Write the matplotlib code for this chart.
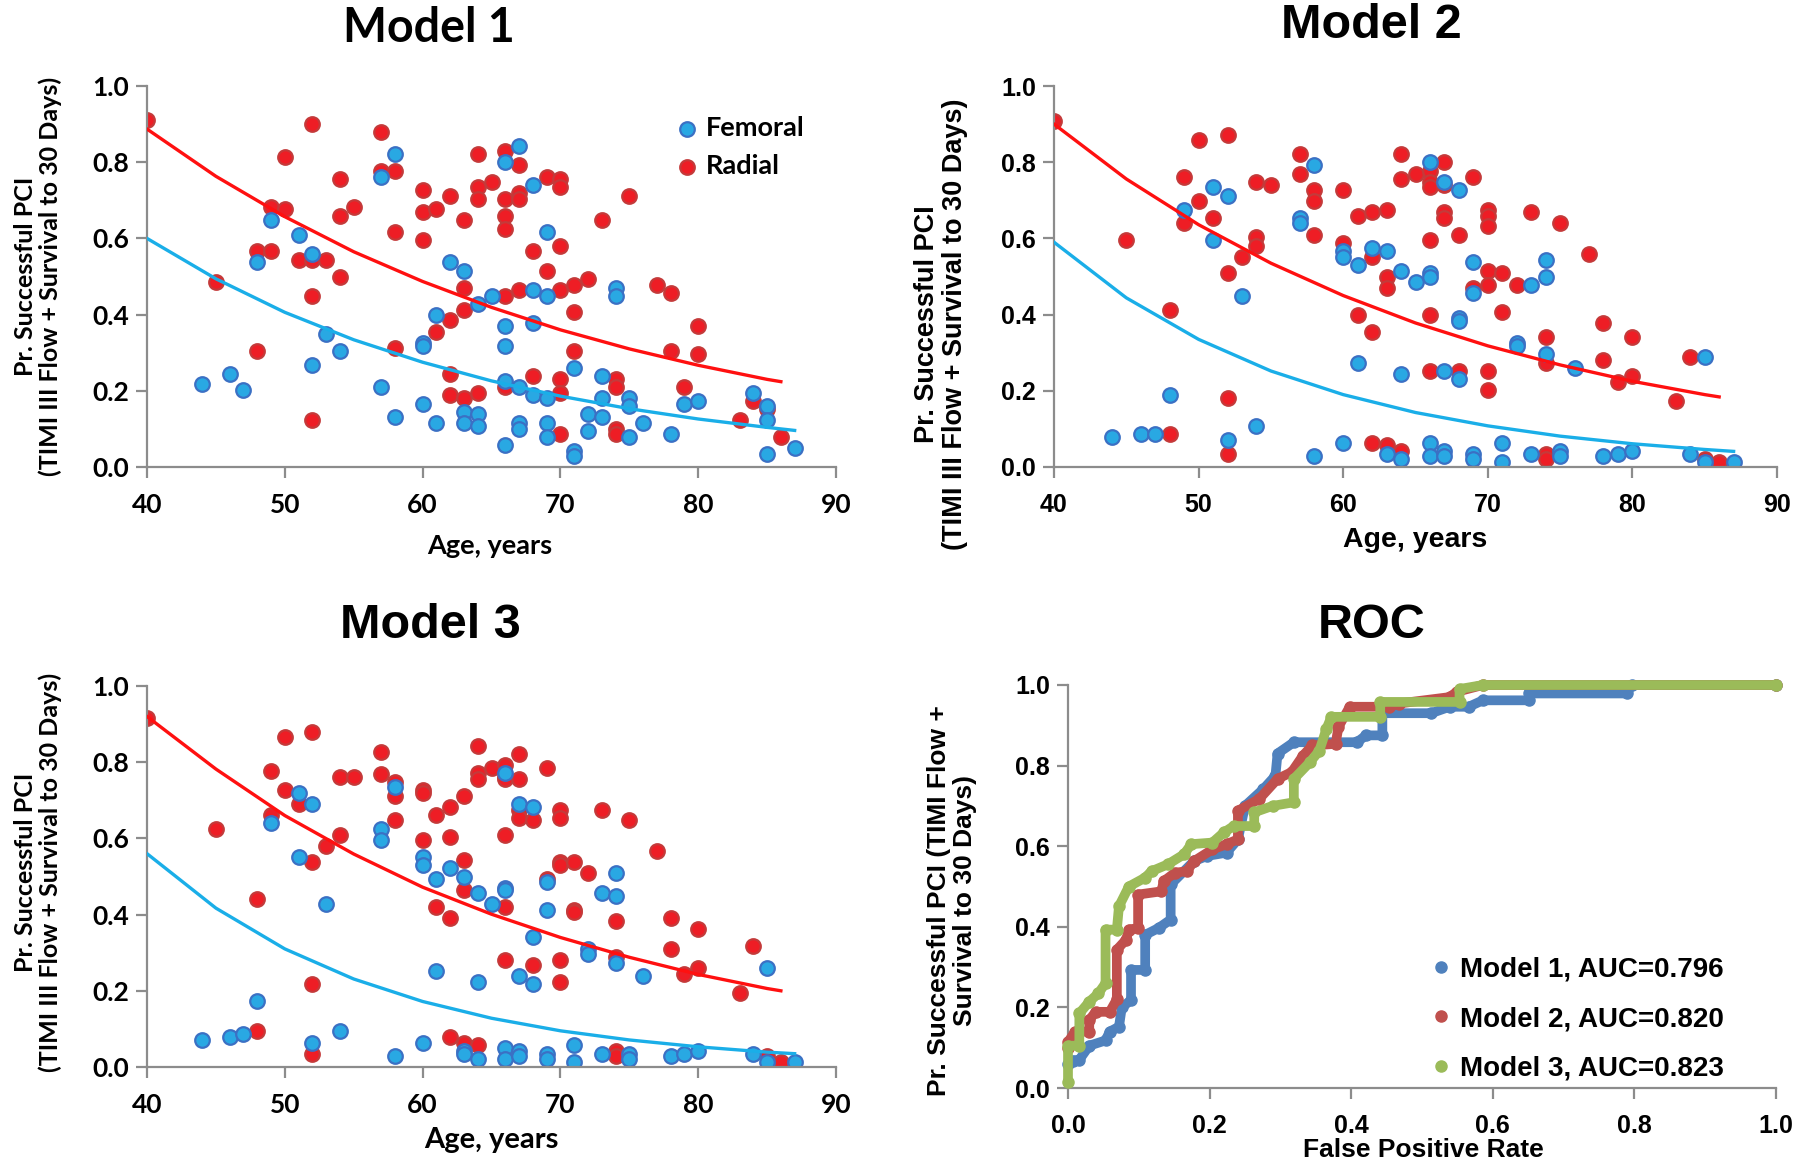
import numpy as np
import matplotlib
matplotlib.use('Agg')
import matplotlib.pyplot as plt
from matplotlib.lines import Line2D
from matplotlib.ticker import FormatStrFormatter

# ---------------- data ----------------
# Model 1
m1_fem_age = [58, 57, 49, 51, 52, 48, 62, 63, 65, 64, 61, 53, 54, 60, 60, 52, 46, 44, 47, 57, 60, 58, 61, 63, 63, 64, 64,
              67, 66, 68, 69, 68, 69, 74, 74, 66, 68, 66, 71, 66, 67, 68, 69, 73, 73, 75, 75, 79, 80, 84, 85, 85, 67, 67,
              69, 69, 72, 72, 73, 76, 75, 78, 66, 71, 71, 85, 87]
m1_fem_p = [.822, .762, .647, .61, .56, .537, .537, .515, .449, .428, .399, .348, .304, .326, .318, .267, .245, .217, .202,
            .21, .166, .13, .116, .145, .116, .138, .108,
            .843, .80, .741, .617, .464, .449, .471, .449, .37, .377, .318, .261, .225, .21, .188, .18, .239, .18, .18,
            .159, .166, .173, .195, .159, .123, .116, .10, .116, .079, .138, .094, .13, .116, .079, .086, .057, .042,
            .028, .035, .05]
m1_rad_age = [40, 52, 57, 50, 54, 57, 58, 64, 65, 64, 64, 62, 60, 60, 61, 55, 49, 50, 54, 63, 58, 60, 48, 49, 51, 52, 53,
              54, 45, 52, 63, 63, 62, 61, 48, 58, 62, 62, 63, 64, 52,
              66, 67, 66, 67, 67, 69, 70, 70, 66, 66, 75, 73, 68, 70, 69, 66, 67, 70, 71, 72, 77, 78, 71, 80, 71, 78,
              80, 66, 68, 70, 70, 74, 74, 79, 84, 85, 83, 70, 74, 74, 86]
m1_rad_p = [.91, .90, .879, .813, .755, .778, .778, .822, .749, .734, .704, .712, .727, .668, .676, .683, .683, .676, .66,
            .647, .617, .595, .566, .566, .544, .544, .544, .50, .486, .449, .471, .413, .385, .355, .304, .313, .245,
            .188, .18, .195, .123,
            .829, .793, .704, .718, .704, .762, .755, .734, .66, .625, .712, .647, .566, .581, .515, .449, .464, .464,
            .479, .493, .479, .457, .406, .37, .304, .304, .296, .21, .239, .232, .195, .232, .21, .21, .173, .152,
            .123, .086, .10, .086, .079]

# Model 2
m2_fem_age = [58, 51, 52, 49, 57, 57, 51, 60, 60, 61, 62, 63, 64, 53, 61, 64, 48, 54, 44, 46, 47, 52, 60, 58, 63, 64,
              66, 67, 68, 65, 66, 66, 69, 69, 74, 74, 73, 68, 68, 72, 72, 74, 76, 67, 68, 85, 66, 66, 67, 67, 69, 69,
              71, 71, 73, 75, 75, 78, 79, 80, 84, 85, 87]
m2_fem_p = [.792, .734, .712, .675, .654, .64, .595, .566, .552, .53, .574, .566, .515, .449, .274, .245, .188, .108, .079,
            .086, .086, .072, .064, .028, .035, .02,
            .80, .749, .727, .486, .508, .50, .537, .457, .544, .50, .479, .392, .384, .326, .318, .296, .261, .253,
            .232, .29, .064, .028, .042, .028, .035, .02, .064, .013, .035, .042, .028, .028, .035, .042, .035, .013,
            .013]
m2_rad_age = [40, 50, 52, 49, 50, 51, 49, 54, 55, 57, 57, 58, 58, 58, 54, 54, 53, 45, 52, 60, 60, 61, 62, 63, 62, 63,
              63, 64, 64, 48, 61, 62, 52, 48, 52, 62, 63, 64,
              65, 66, 67, 66, 66, 67, 69, 67, 67, 70, 70, 70, 68, 66, 73, 75, 77, 70, 71, 70, 72, 69, 66, 71, 78, 80,
              74, 74, 78, 80, 79, 66, 68, 70, 70, 84, 83, 74, 74, 85, 86]
m2_rad_p = [.908, .857, .872, .762, .697, .654, .64, .748, .741, .822, .769, .727, .697, .61, .603, .581, .552, .595, .508,
            .727, .588, .66, .668, .675, .552, .50, .471, .822, .755, .413, .399, .355, .18, .086, .035, .064, .057,
            .042,
            .769, .778, .80, .749, .734, .741, .762, .668, .654, .675, .66, .632, .61, .595, .668, .64, .559, .515,
            .508, .479, .479, .471, .399, .406, .377, .341, .341, .274, .282, .239, .224, .253, .253, .253, .202, .29,
            .173, .035, .02, .02, .013]

# Model 3
m3_fem_age = [51, 52, 49, 51, 58, 57, 57, 60, 60, 61, 62, 63, 64, 65, 53, 61, 64, 48, 44, 46, 47, 54, 52, 60, 58, 63,
              63, 64,
              66, 67, 68, 66, 66, 69, 69, 74, 73, 74, 68, 67, 68, 72, 72, 74, 76, 85, 66, 66, 67, 67, 69, 69, 71, 71,
              73, 75, 75, 78, 79, 80, 84, 85, 87]
m3_fem_p = [.718, .69, .64, .552, .734, .625, .595, .552, .53, .493, .522, .50, .457, .428, .428, .253, .224, .173, .072,
            .079, .086, .094, .064, .064, .028, .042, .035, .02,
            .771, .69, .683, .471, .464, .486, .413, .508, .457, .449, .341, .239, .217, .311, .296, .274, .239, .261,
            .05, .02, .042, .028, .035, .02, .057, .013, .035, .035, .02, .028, .035, .042, .035, .013, .013]
m3_rad_age = [40, 50, 52, 49, 54, 55, 57, 57, 58, 58, 50, 51, 49, 60, 60, 64, 65, 64, 64, 63, 62, 61, 58, 54, 53, 45,
              52, 60, 62, 63, 63, 48, 61, 62, 52, 48, 52, 62, 63, 64,
              66, 67, 66, 66, 67, 69, 67, 67, 68, 70, 70, 73, 75, 66, 77, 70, 70, 71, 72, 69, 66, 71, 71, 74, 78, 80,
              84, 66, 68, 70, 70, 74, 78, 79, 80, 83, 74, 74, 85, 86]
m3_rad_p = [.915, .865, .879, .778, .762, .762, .828, .769, .748, .712, .727, .69, .661, .727, .718, .843, .784, .771,
            .755, .712, .683, .661, .647, .61, .581, .625, .537, .595, .603, .544, .464, .442, .42, .392, .217, .094,
            .035, .079, .064, .057,
            .793, .822, .762, .755, .755, .784, .675, .654, .647, .675, .654, .675, .647, .61, .566, .537, .53, .537,
            .508, .493, .42, .413, .406, .384, .392, .362, .318, .282, .267, .282, .224, .29, .311, .245, .261, .195,
            .042, .028, .028, .013]

# exponential trend lines
fit_rad_age = [40, 45, 50, 55, 60, 65, 70, 75, 80, 85, 86]
fit_fem_age = [40, 45, 50, 55, 60, 65, 70, 75, 80, 85, 87]
m1_fit_rad = [0.887, 0.763, 0.657, 0.565, 0.487, 0.419, 0.360, 0.310, 0.267, 0.230, 0.224]
m1_fit_fem = [0.600, 0.494, 0.406, 0.334, 0.275, 0.226, 0.186, 0.153, 0.126, 0.104, 0.096]
m2_fit_rad = [0.900, 0.756, 0.636, 0.535, 0.450, 0.378, 0.318, 0.268, 0.225, 0.190, 0.184]
m2_fit_fem = [0.590, 0.444, 0.335, 0.252, 0.190, 0.143, 0.108, 0.081, 0.061, 0.046, 0.041]
m3_fit_rad = [0.920, 0.782, 0.660, 0.559, 0.472, 0.401, 0.340, 0.288, 0.243, 0.206, 0.200]
m3_fit_fem = [0.560, 0.417, 0.310, 0.231, 0.172, 0.128, 0.095, 0.071, 0.053, 0.039, 0.035]

# ROC step curves
roc1_fpr = [0, 0.007, 0.016, 0.03, 0.053, 0.059, 0.072, 0.076, 0.089, 0.089, 0.109, 0.109, 0.128, 0.145, 0.145, 0.178,
            0.197, 0.224, 0.24, 0.25, 0.276, 0.293, 0.296, 0.319, 0.408, 0.421, 0.444, 0.444, 0.513, 0.539, 0.566,
            0.586, 0.651, 0.651, 0.789, 0.796, 1.0]
roc1_tpr = [0.06, 0.068, 0.07, 0.105, 0.118, 0.14, 0.152, 0.2, 0.218, 0.293, 0.293, 0.38, 0.397, 0.418, 0.505, 0.563,
            0.576, 0.584, 0.617, 0.70, 0.742, 0.775, 0.83, 0.858, 0.858, 0.875, 0.875, 0.93, 0.93, 0.946, 0.946,
            0.962, 0.962, 0.979, 0.979, 1.0, 1.0]
roc2_fpr = [0, 0, 0.01, 0.03, 0.03, 0.039, 0.059, 0.069, 0.069, 0.082, 0.086, 0.099, 0.099, 0.132, 0.135, 0.151, 0.168,
            0.178, 0.204, 0.224, 0.24, 0.24, 0.27, 0.296, 0.316, 0.332, 0.345, 0.378, 0.382, 0.398, 0.454, 0.467,
            0.539, 0.549, 0.586, 1.0]
roc2_tpr = [0.10, 0.114, 0.14, 0.14, 0.168, 0.189, 0.189, 0.22, 0.343, 0.368, 0.393, 0.397, 0.48, 0.488, 0.513, 0.534,
            0.538, 0.563, 0.592, 0.605, 0.617, 0.688, 0.717, 0.767, 0.784, 0.825, 0.85, 0.854, 0.896, 0.946, 0.946,
            0.954, 0.97, 0.983, 1.0, 1.0]
roc3_fpr = [0, 0, 0.016, 0.016, 0.03, 0.043, 0.053, 0.053, 0.069, 0.072, 0.086, 0.109, 0.118, 0.141, 0.164, 0.174,
            0.204, 0.22, 0.234, 0.263, 0.263, 0.289, 0.319, 0.319, 0.342, 0.355, 0.365, 0.372, 0.441, 0.441, 0.553,
            0.553, 0.586, 1.0]
roc3_tpr = [0.015, 0.105, 0.105, 0.185, 0.214, 0.235, 0.26, 0.393, 0.393, 0.451, 0.5, 0.522, 0.538, 0.555, 0.58, 0.605,
            0.609, 0.634, 0.65, 0.65, 0.684, 0.70, 0.709, 0.767, 0.809, 0.837, 0.891, 0.921, 0.921, 0.958, 0.958,
            0.99, 1.0, 1.0]
roc_labels = ['Model 1, AUC=0.796', 'Model 2, AUC=0.820', 'Model 3, AUC=0.823']

# ---------------- styling ----------------
CAL = 'Lato'
ARI = 'Liberation Sans'
plt.rcParams['font.weight'] = 'bold'
plt.rcParams['axes.labelweight'] = 'bold'

fem_face, fem_edge = '#29a8e3', '#3b70c4'
rad_face, rad_edge = '#ee1d25', '#c43a3a'
fem_line, rad_line = '#1aaee8', '#ff1010'
axis_grey = '#8c8c8c'

W, H = 1800, 1169
fig = plt.figure(figsize=(18, 11.69), dpi=100)


def axes_px(left, top, right, bottom):
    return fig.add_axes([left / W, 1 - bottom / H, (right - left) / W, (bottom - top) / H])


def text_px(x, y, s, **kw):
    fig.text(x / W, 1 - y / H, s, ha='center', va='center', **kw)


def style_axes(ax, font, size):
    for side in ['top', 'right']:
        ax.spines[side].set_visible(False)
    for side in ['left', 'bottom']:
        ax.spines[side].set_color(axis_grey)
        ax.spines[side].set_linewidth(1.6)
    ax.tick_params(direction='out', length=8, width=1.6, color=axis_grey, labelsize=size,
                   labelfontfamily=font, labelcolor='black')
    ax.tick_params(axis='x', pad=11)
    ax.tick_params(axis='y', pad=5)
    ax.yaxis.set_major_formatter(FormatStrFormatter('%.1f'))


def scatter_panel(ax, fem_age, fem_p, rad_age, rad_p, fit_fem, fit_rad, font, size):
    ax.scatter(rad_age, rad_p, s=110, c=rad_face, edgecolors=rad_edge, linewidths=1.6, zorder=2, label='Radial')
    ax.scatter(fem_age, fem_p, s=110, c=fem_face, edgecolors=fem_edge, linewidths=1.6, zorder=2, label='Femoral')
    ax.plot(fit_rad_age, fit_rad, color=rad_line, lw=2.4, zorder=3)
    ax.plot(fit_fem_age, fit_fem, color=fem_line, lw=2.4, zorder=3)
    ax.set_xlim(40, 90)
    ax.set_ylim(0, 1.0)
    ax.set_xticks([40, 50, 60, 70, 80, 90])
    ax.set_yticks([0, 0.2, 0.4, 0.6, 0.8, 1.0])
    style_axes(ax, font, size)


ylab = 'Pr. Successful PCI\n(TIMI III Flow + Survival to 30 Days)'

# Model 1
ax1 = axes_px(147, 86, 836, 467)
scatter_panel(ax1, m1_fem_age, m1_fem_p, m1_rad_age, m1_rad_p, m1_fit_fem, m1_fit_rad, CAL, 19)
h, l = ax1.get_legend_handles_labels()
ax1.legend(h[::-1], l[::-1], loc='center left', bbox_to_anchor=(0.774, 0.84), frameon=False,
           handlelength=0.5, handletextpad=0.45, labelspacing=0.5, borderpad=0, borderaxespad=0,
           prop={'family': CAL, 'weight': 'bold', 'size': 19.5})
text_px(429, 28, 'Model 1', family=CAL, fontsize=33.5, fontweight='bold')
text_px(38, 276, ylab, family=CAL, fontsize=18, fontweight='bold', rotation=90, linespacing=1.1)
text_px(490, 546, 'Age, years', family=CAL, fontsize=19.5, fontweight='bold')

# Model 2
ax2 = axes_px(1054, 86, 1777, 467)
scatter_panel(ax2, m2_fem_age, m2_fem_p, m2_rad_age, m2_rad_p, m2_fit_fem, m2_fit_rad, ARI, 18)
text_px(1371, 26, 'Model 2', family=ARI, fontsize=35, fontweight='bold')
text_px(941, 324, ylab, family=ARI, fontsize=19.5, fontweight='bold', rotation=90, linespacing=1.1)
text_px(1415, 540, 'Age, years', family=ARI, fontsize=20.5, fontweight='bold')

# Model 3
ax3 = axes_px(147, 686, 836, 1067)
scatter_panel(ax3, m3_fem_age, m3_fem_p, m3_rad_age, m3_rad_p, m3_fit_fem, m3_fit_rad, CAL, 19)
text_px(430, 626, 'Model 3', family=ARI, fontsize=35, fontweight='bold')
text_px(38, 872, ylab, family=CAL, fontsize=18, fontweight='bold', rotation=90, linespacing=1.1)
text_px(491, 1140, 'Age, years', family=CAL, fontsize=21, fontweight='bold')

# ROC
ax4 = axes_px(1068, 685, 1776, 1088)
roc_cols = ['#4f81bd', '#c0504d', '#9bbb59']
for fpr, tpr, col in zip([roc1_fpr, roc2_fpr, roc3_fpr], [roc1_tpr, roc2_tpr, roc3_tpr], roc_cols):
    ax4.plot(fpr, tpr, color=col, lw=7, marker='o', ms=8, solid_joinstyle='round', solid_capstyle='round',
             clip_on=False, zorder=3)
ax4.set_xlim(0, 1.0)
ax4.set_ylim(0, 1.0)
ax4.set_xticks(np.arange(0, 1.01, 0.2))
ax4.set_yticks(np.arange(0, 1.01, 0.2))
style_axes(ax4, ARI, 18)
ax4.xaxis.set_major_formatter(FormatStrFormatter('%.1f'))
handles = [Line2D([], [], ls='', marker='o', ms=8, color=c) for c in roc_cols]
ax4.legend(handles, roc_labels, loc='center left', bbox_to_anchor=(0.515, 0.171), frameon=False,
           handlelength=0.6, handletextpad=0.4, labelspacing=0.85, borderpad=0, borderaxespad=0,
           prop={'family': ARI, 'weight': 'bold', 'size': 20})
text_px(1372, 626, 'ROC', family=ARI, fontsize=35, fontweight='bold')
text_px(952, 901, 'Pr. Successful PCI (TIMI Flow +\nSurvival to 30 Days)', family=ARI, fontsize=19,
        fontweight='bold', rotation=90, linespacing=1.1)
text_px(1423, 1150, 'False Positive Rate', family=ARI, fontsize=19, fontweight='bold')

fig.savefig('out.png', dpi=100)
